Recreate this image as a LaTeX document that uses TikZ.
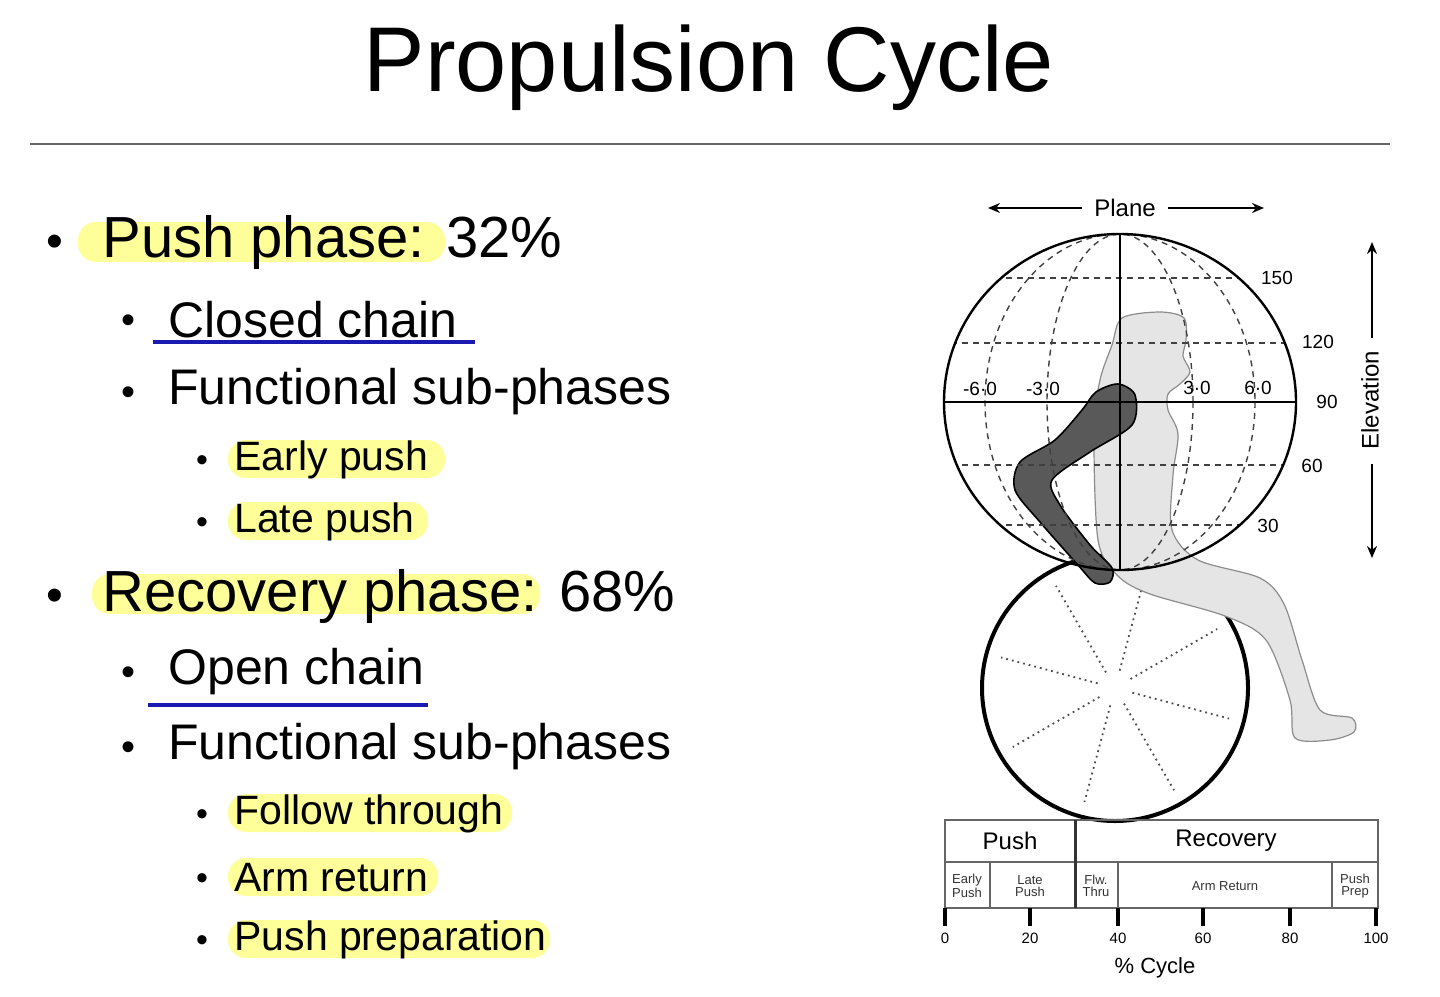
\documentclass[tikz,border=0pt]{standalone}
\usepackage{fontspec}
\setmainfont{Liberation Sans}
\usetikzlibrary{arrows.meta}
\newcommand{\fsz}[1]{\fontsize{#1pt}{#1pt}\selectfont}
\definecolor{hl}{HTML}{FFFF99}
\definecolor{ul}{HTML}{1A1AB0}
\tikzset{
  hlbox/.style={fill=hl,draw=none,rounded corners=9pt},
  lvA/.style={anchor=west,inner sep=0pt,font=\fsz{29}},
  lvB/.style={anchor=west,inner sep=0pt,font=\fsz{25}},
  lvC/.style={anchor=west,inner sep=0pt,font=\fsz{20.5}},
  dot/.style={inner sep=0pt,font=\fsz{20}},
  ulline/.style={draw=ul,line width=1.6pt},
  grid/.style={dashed,line width=0.7pt,dash pattern=on 3pt off 2.5pt,draw=black!75},
  lab/.style={inner sep=0pt,font=\fsz{9.5}},
  cell/.style={inner sep=0pt,font=\fsz{6.5},align=center,text=black!80,
     execute at begin node=\setlength{\baselineskip}{6pt}},
  arr/.style={-{Stealth[length=6pt,width=5pt]},line width=0.9pt},
}
\begin{document}
\begin{tikzpicture}[x=0.5pt,y=-0.5pt]
\useasboundingbox (0,0) rectangle (1440,996);
% title
\node[inner sep=0pt,font=\fsz{46}] (title) at (709,68) {Propulsion Cycle};
\coordinate (r1) at (30,144); \coordinate (r2) at (1390,144);
\draw[black!60,line width=1.2pt] (r1) -- (r2);
% highlights
\fill[hlbox] (78,222) rectangle (445,262);
\fill[hlbox] (228,440) rectangle (445,478);
\fill[hlbox] (228,502) rectangle (428,540);
\fill[hlbox] (92,574) rectangle (540,614);
\fill[hlbox] (228,794) rectangle (512,832);
\fill[hlbox] (228,858) rectangle (438,896);
\fill[hlbox] (228,920) rectangle (550,958);
% bullets
\node[dot,font=\fsz{24}] (b1) at (55,246) {•};
\node[lvA] (t1) at (102,242) {Push phase: 32\%};
\node[dot] (b2) at (128,324) {•};
\node[lvB] (t2) at (168,320) {Closed chain};
\node[dot] (b3) at (128,396) {•};
\node[lvB] (t3) at (168,392) {Functional sub-phases};
\node[dot,font=\fsz{17}] (b4) at (202,464) {•};
\node[lvC] (t4) at (234,460) {Early push};
\node[dot,font=\fsz{17}] (b5) at (202,526) {•};
\node[lvC] (t5) at (234,522) {Late push};
\node[dot,font=\fsz{24}] (b6) at (55,600) {•};
\node[lvA] (t6) at (102,596) {Recovery phase: 68\%};
\node[dot] (b7) at (128,676) {•};
\node[lvB] (t7) at (168,672) {Open chain};
\node[dot] (b8) at (128,751) {•};
\node[lvB] (t8) at (168,747) {Functional sub-phases};
\node[dot,font=\fsz{17}] (b9) at (202,818) {•};
\node[lvC] (t9) at (234,814) {Follow through};
\node[dot,font=\fsz{17}] (b10) at (202,882) {•};
\node[lvC] (t10) at (234,878) {Arm return};
\node[dot,font=\fsz{17}] (b11) at (202,944) {•};
\node[lvC] (t11) at (234,940) {Push preparation};
\coordinate (u1a) at (153,342); \coordinate (u1b) at (475,342);
\coordinate (u2a) at (148,705); \coordinate (u2b) at (428,705);
\draw[ulline] (u1a) -- (u1b);
\draw[ulline] (u2a) -- (u2b);
% ---- diagram ----
\coordinate (C) at (1120,402);
% wheel
\draw[line width=2pt] (1115,688) circle [radius=133];
\foreach \a in {15,60,105,150,195,240,285,330}
  \draw[dotted,line width=0.9pt,black!70] (1115,688) ++(\a:-18) -- ++(\a:-100);
% body silhouette
\draw[fill=black!10,draw=black!45,line width=0.6pt] plot[smooth cycle,tension=0.5] coordinates {
 (1112,345) (1122,318) (1160,312) (1184,318) (1186,340) (1183,356) (1190,372) (1180,384)
 (1168,394) (1168,410) (1178,434) (1173,475) (1172,530) (1198,560) (1260,578) (1284,604)
 (1302,660) (1320,710) (1352,718) (1354,732) (1330,740) (1295,738) (1290,700) (1266,640)
 (1225,616) (1150,594) (1118,576) (1098,540) (1094,430) (1100,380)};
% arm
\draw[fill=black!65,draw=black,line width=0.8pt] plot[smooth cycle,tension=0.5] coordinates {
 (1096,392) (1118,384) (1135,395) (1132,425) (1090,452) (1052,480) (1060,505) (1090,545)
 (1112,568) (1110,582) (1095,583) (1078,565) (1040,522) (1015,490) (1020,462) (1055,440) (1082,410)};
% grid on sphere
\begin{scope}
\clip (C) circle [x radius=176,y radius=168];
\foreach \y in {278,343,465,525} \draw[grid] (940,\y) -- (1300,\y);
\end{scope}
\draw[grid] (C) ellipse [x radius=73,y radius=168];
\draw[grid] (C) ellipse [x radius=135,y radius=168];
\draw[line width=1.2pt] (C) circle [x radius=176,y radius=168];
\coordinate (h1) at (944,402); \coordinate (h2) at (1296,402);
\coordinate (v1) at (1120,234); \coordinate (v2) at (1120,570);
\draw[line width=1pt] (h1) -- (h2);
\draw[line width=1pt] (v1) -- (v2);
\node[lab] (e150) at (1277,278) {150};
\node[lab] (e120) at (1318,342) {120};
\node[lab] (e90) at (1327,402) {90};
\node[lab] (e60) at (1312,466) {60};
\node[lab] (e30) at (1268,526) {30};
\node[lab] (pm60) at (980,389) {-6·0};
\node[lab] (pm30) at (1043,389) {-3·0};
\node[lab] (pp30) at (1197,388) {3·0};
\node[lab] (pp60) at (1258,388) {6·0};
\node[inner sep=0pt,font=\fsz{12}] (plane) at (1125,208) {Plane};
\coordinate (pl) at (988,208); \coordinate (pr) at (1264,208);
\draw[arr] (plane.west) ++(-12,0) -- (pl);
\draw[arr] (plane.east) ++(12,0) -- (pr);
\node[inner sep=0pt,font=\fsz{12},rotate=90] (elev) at (1370,400) {Elevation};
\coordinate (et) at (1372,242); \coordinate (eb) at (1372,558);
\draw[arr] (1372,338) -- (et);
\draw[arr] (1372,464) -- (eb);
% table
\draw[black!60,line width=0.9pt] (945,820) rectangle (1378,908);
\draw[black!60,line width=0.9pt] (945,862) -- (1378,862);
\draw[black!80,line width=1.5pt] (1075,820) -- (1075,908);
\foreach \x in {990,1118,1332} \draw[black!60,line width=0.9pt] (\x,862) -- (\x,908);
\node[inner sep=0pt,font=\fsz{12}] (push) at (1010,841) {Push};
\node[inner sep=0pt,font=\fsz{12}] (rec) at (1226,841) {Recovery};
\node[cell] (ep) at (967,886) {Early\\Push};
\node[cell] (lp) at (1030,886) {Late\\Push};
\node[cell] (ft) at (1096,886) {Flw.\\Thru};
\node[cell] (ar) at (1225,886) {Arm Return};
\node[cell] (pp) at (1355,886) {Push\\Prep};
\foreach \x/\l in {945/0,1030/20,1118/40,1203/60,1290/80,1376/100}{
  \draw[line width=1.6pt] (\x,908) -- (\x,926);
  \node[lab,font=\fsz{7.5}] at (\x,938) {\l};
}
\node[inner sep=0pt,font=\fsz{11}] (cyc) at (1155,968) {\% Cycle};
\end{tikzpicture}
\end{document}
